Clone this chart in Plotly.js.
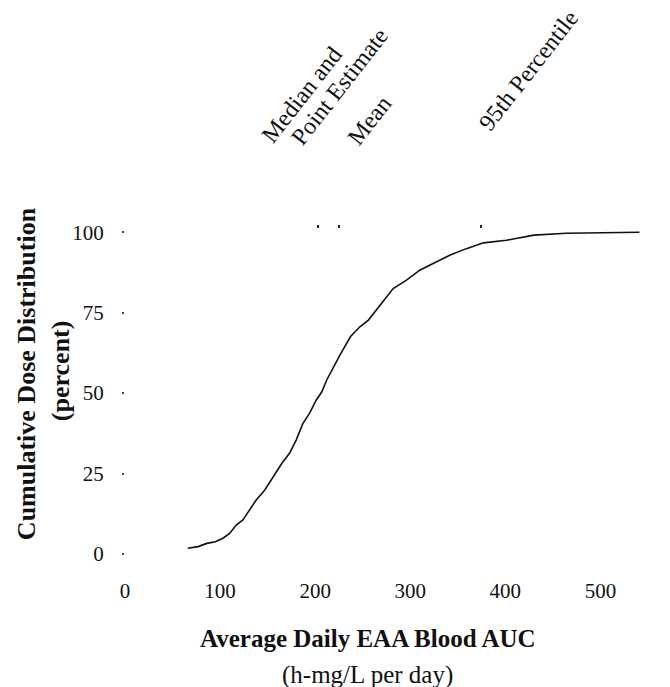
<!DOCTYPE html>
<html>
<head>
<meta charset="utf-8">
<script src="https://cdn.plot.ly/plotly-3.0.1.min.js"></script>
<style>html,body{margin:0;padding:0;background:#fff;}#chart{width:670px;height:687px;}</style>
</head>
<body>
<div id="chart"></div>
<script>
// Average daily EAA blood AUC (h-mg/L per day)
var aucValues = [66, 77, 86, 95, 103, 110, 117, 124, 131, 138, 147, 156, 165, 173, 180, 187, 194, 201, 207, 212, 219, 226, 237, 247, 256, 268, 282, 296, 310, 324, 342, 359, 377, 401, 430, 464, 506, 541];
// Cumulative dose distribution (percent)
var cumPercent = [1.8, 2.3, 3.3, 3.8, 4.9, 6.4, 9.0, 10.6, 13.7, 16.8, 19.9, 24.0, 28.2, 31.3, 35.4, 40.5, 43.7, 47.8, 50.4, 54.0, 58.1, 61.8, 67.5, 70.6, 72.7, 77.3, 82.5, 85.1, 88.2, 90.3, 92.9, 94.9, 96.7, 97.5, 99.1, 99.7, 99.9, 100.0];
var xTickVals = [0, 100, 200, 300, 400, 500];
var yTickVals = [0, 25, 50, 75, 100];
var statNames = ["Median and<br>Point Estimate", "Mean", "95th Percentile"];
var statValues = [203, 225, 374];

var F = "Liberation Serif, Times New Roman, serif";

var traces = [
  {x: aucValues, y: cumPercent, type: "scatter", mode: "lines",
   line: {color: "#111", width: 1.6}, hoverinfo: "skip", showlegend: false},
  {x: statValues, y: [null, null, null], xaxis: "x2", type: "scatter", mode: "markers",
   showlegend: false, hoverinfo: "skip"}
];

var annotations = [
  {xref: "paper", yref: "paper", x: 0.3375, y: 1.412, text: "Median and", showarrow: false, textangle: -52, xanchor: "center", yanchor: "middle", font: {family: F, size: 24, color: "#111"}},
  {xref: "paper", yref: "paper", x: 0.411, y: 1.44, text: "Point Estimate", showarrow: false, textangle: -52, xanchor: "center", yanchor: "middle", font: {family: F, size: 24, color: "#111"}},
  {xref: "paper", yref: "paper", x: 0.468, y: 1.335, text: statNames[1], showarrow: false, textangle: -52, xanchor: "center", yanchor: "middle", font: {family: F, size: 24, color: "#111"}},
  {xref: "paper", yref: "paper", x: 0.772, y: 1.489, text: statNames[2], showarrow: false, textangle: -52, xanchor: "center", yanchor: "middle", font: {family: F, size: 24, color: "#111"}},
  {xref: "paper", yref: "paper", x: 0.4646, y: -0.2585, text: "<b>Average Daily EAA Blood AUC</b>", showarrow: false, xanchor: "center", yanchor: "middle", font: {family: F, size: 25, color: "#111"}},
  {xref: "paper", yref: "paper", x: 0.4646, y: -0.372, text: "(h-mg/L per day)", showarrow: false, xanchor: "center", yanchor: "middle", font: {family: F, size: 25, color: "#111"}},
  {xref: "paper", yref: "paper", x: -0.187, y: 0.554, text: "<b>Cumulative Dose Distribution</b>", showarrow: false, textangle: -90, xanchor: "center", yanchor: "middle", font: {family: F, size: 26, color: "#111"}},
  {xref: "paper", yref: "paper", x: -0.124, y: 0.563, text: "<b>(percent)</b>", showarrow: false, textangle: -90, xanchor: "center", yanchor: "middle", font: {family: F, size: 26, color: "#111"}}
];

var layout = {
  width: 670, height: 687,
  paper_bgcolor: "#fff", plot_bgcolor: "#fff",
  margin: {l: 125, r: 22, t: 229, b: 133},
  showlegend: false,
  font: {family: F, color: "#111"},
  xaxis: {range: [0, 550], tickvals: xTickVals, showgrid: false, zeroline: false, showline: false,
          ticks: "", ticklabelstandoff: 22, tickfont: {family: F, size: 21, color: "#111"}, fixedrange: true},
  xaxis2: {overlaying: "x", side: "top", range: [0, 550], tickvals: statValues, showticklabels: false,
           ticks: "outside", ticklen: 3, tickwidth: 2, tickcolor: "#222", showgrid: false, zeroline: false, showline: false},
  yaxis: {range: [0, 101], tickvals: yTickVals, showgrid: false, zeroline: false, showline: false,
          ticks: "outside", ticklen: 2, tickwidth: 2, tickcolor: "#444",
          ticklabelstandoff: 14, tickfont: {family: F, size: 21, color: "#111"}, fixedrange: true},
  annotations: annotations
};

Plotly.newPlot("chart", traces, layout, {displayModeBar: false, staticPlot: true});
</script>
</body>
</html>
